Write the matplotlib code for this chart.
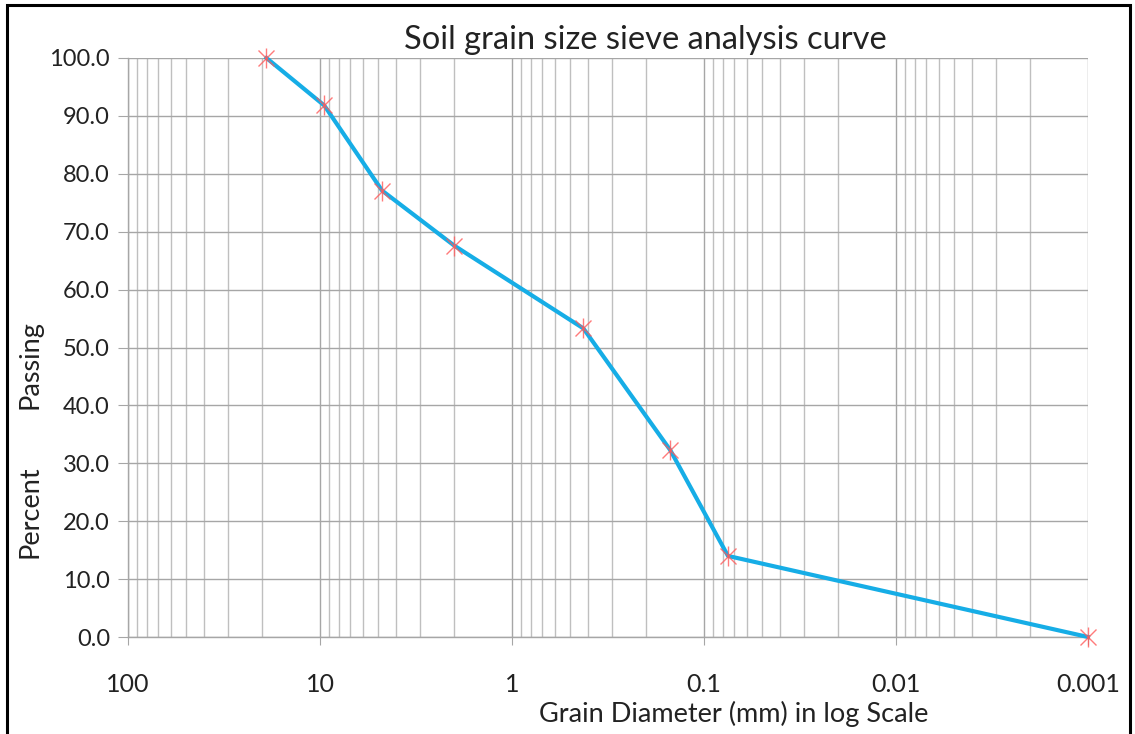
import numpy as np
import matplotlib
matplotlib.use('Agg')
import matplotlib.pyplot as plt
from matplotlib.ticker import LogLocator, FixedLocator, FixedFormatter, NullFormatter, FormatStrFormatter
from matplotlib.patches import Rectangle

plt.rcParams['font.family'] = ['Lato', 'DejaVu Sans']

# sieve data
diameter_mm = [19.0, 9.5, 4.75, 2.0, 0.425, 0.15, 0.075, 0.001]
percent_passing = [100.0, 91.8, 77.1, 67.6, 53.3, 32.3, 14.0, 0.0]

xticks = [100, 10, 1, 0.1, 0.01, 0.001]
xtick_labels = ['100', '10', '1', '0.1', '0.01', '0.001']
yticks = [0, 10, 20, 30, 40, 50, 60, 70, 80, 90, 100]

W, H = 1135, 734
fig = plt.figure(figsize=(W / 100, H / 100), dpi=100)
ax = fig.add_axes([128 / W, 1 - 637 / H, (1088 - 128) / W, (637 - 58) / H])

ax.set_xscale('log')
ax.set_xlim(100, 0.001)
ax.set_ylim(0, 100)

ax.xaxis.set_major_locator(FixedLocator(xticks))
ax.xaxis.set_major_formatter(FixedFormatter(xtick_labels))
ax.xaxis.set_minor_locator(LogLocator(base=10, subs=np.arange(2, 10)))
ax.xaxis.set_minor_formatter(NullFormatter())
ax.set_yticks(yticks)
ax.yaxis.set_major_formatter(FormatStrFormatter('%.1f'))

ax.grid(True, which='major', axis='both', color='#a6a6a6', lw=1.0)
ax.grid(True, which='minor', axis='x', color='#bfbfbf', lw=1.0)
ax.set_axisbelow(True)

for s in ['top', 'right']:
    ax.spines[s].set_visible(False)
for s in ['left', 'bottom']:
    ax.spines[s].set_color('#a6a6a6')
    ax.spines[s].set_linewidth(1.0)

ax.tick_params(axis='x', which='major', direction='out', length=6, color='#a6a6a6',
               pad=20, labelsize=18, labelcolor='#222222')
ax.tick_params(axis='x', which='minor', length=0)
ax.tick_params(axis='y', direction='out', length=7, color='#a6a6a6',
               pad=6, labelsize=17, labelcolor='#222222')

ax.plot(diameter_mm, percent_passing, color='#16ade6', lw=3, zorder=3, clip_on=False)
ax.plot(diameter_mm, percent_passing, ls='none', marker='x', ms=11, mew=1,
        color='#ff5a5a', alpha=0.8, zorder=4, clip_on=False)
ax.plot(diameter_mm, percent_passing, ls='none', marker='|', ms=15, mew=1,
        color='#ff5a5a', alpha=0.8, zorder=4, clip_on=False)

fig.text(645 / W, 1 - 40 / H, 'Soil grain size sieve analysis curve',
         ha='center', va='center', fontsize=23.5, color='#222222')
fig.text(734 / W, 1 - 714 / H, 'Grain Diameter (mm) in log Scale',
         ha='center', va='center', fontsize=19.5, color='#222222')
fig.text(30 / W, 1 - 512 / H, 'Percent', rotation=90,
         ha='center', va='center', fontsize=19.5, color='#222222')
fig.text(30 / W, 1 - 365 / H, 'Passing', rotation=90,
         ha='center', va='center', fontsize=19.5, color='#222222')

# outer frame
fig.patches.append(Rectangle((7 / W, -0.05), (1130 - 7) / W, 1.05 - 5 / H,
                             transform=fig.transFigure, fill=False,
                             edgecolor='black', lw=2.2))

fig.savefig('out.png', dpi=100)
